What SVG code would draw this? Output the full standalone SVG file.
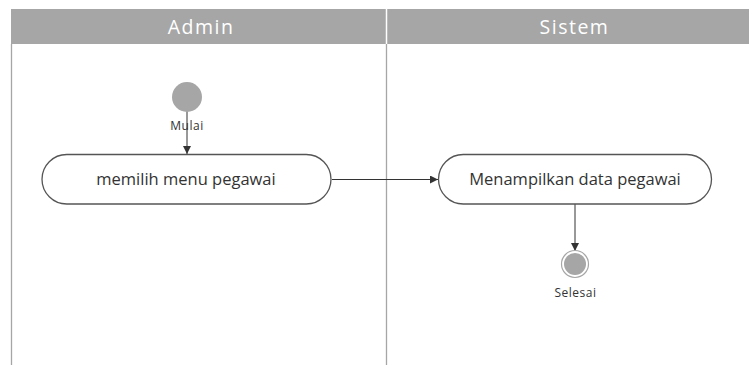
<svg xmlns="http://www.w3.org/2000/svg" width="749" height="365" viewBox="0 0 749 365">
<style>
.hdr{fill:#a6a6a6}
.hdrtxt{font-family:"Open Sans","Liberation Sans",sans-serif;font-size:19.5px;fill:#ffffff;text-anchor:middle;letter-spacing:1.5px}
.lane{stroke:#a6a6a6;stroke-width:1.3;fill:none}
.act{fill:#ffffff;stroke:#555555;stroke-width:1.3}
.acttxt{font-family:"Open Sans","Liberation Sans",sans-serif;font-size:16.5px;fill:#333333;text-anchor:middle}
.lbl{font-family:"Open Sans","Liberation Sans",sans-serif;font-size:12px;fill:#333333;text-anchor:middle;letter-spacing:0.5px}
.conn{stroke:#333333;stroke-width:1;fill:none;marker-end:url(#arr)}
</style>
<defs>
<marker id="arr" viewBox="0 0 10 10" refX="10" refY="5" markerWidth="8" markerHeight="8" markerUnits="userSpaceOnUse" orient="auto">
<path d="M0,0 L10,5 L0,10 z" fill="#333333"/>
</marker>
</defs>
<rect width="749" height="365" fill="#ffffff"/>
<g id="lanes">
<rect class="hdr" x="11" y="9" width="738" height="35"/>
<line x1="386.5" y1="9" x2="386.5" y2="365" stroke="#ffffff" stroke-width="1.5"/>
<line class="lane" x1="11.5" y1="44" x2="11.5" y2="365"/>
<line class="lane" x1="386.5" y1="44" x2="386.5" y2="365"/>
<text class="hdrtxt" x="201" y="34">Admin</text>
<text class="hdrtxt" x="574.5" y="34">Sistem</text>
</g>
<g id="connectors">
<line class="conn" x1="187" y1="111" x2="187" y2="154"/>
<line class="conn" x1="332" y1="179.5" x2="438" y2="179.5"/>
<line class="conn" x1="575" y1="204" x2="575" y2="251"/>
</g>
<g id="start">
<circle cx="187" cy="97" r="15" fill="#a6a6a6"/>
<text class="lbl" x="187" y="130">Mulai</text>
</g>
<g id="memilih">
<rect class="act" x="42" y="154.5" width="289" height="49.5" rx="24.75"/>
<text class="acttxt" x="186" y="185">memilih menu pegawai</text>
</g>
<g id="menampilkan">
<rect class="act" x="438.5" y="154.5" width="273" height="49.5" rx="24.75"/>
<text class="acttxt" x="575" y="185">Menampilkan data pegawai</text>
</g>
<g id="end">
<circle cx="575" cy="264" r="13.5" fill="#ffffff" stroke="#a6a6a6" stroke-width="1.2"/>
<circle cx="575" cy="264" r="11" fill="#a6a6a6"/>
<text class="lbl" x="575.5" y="297">Selesai</text>
</g>
</svg>
